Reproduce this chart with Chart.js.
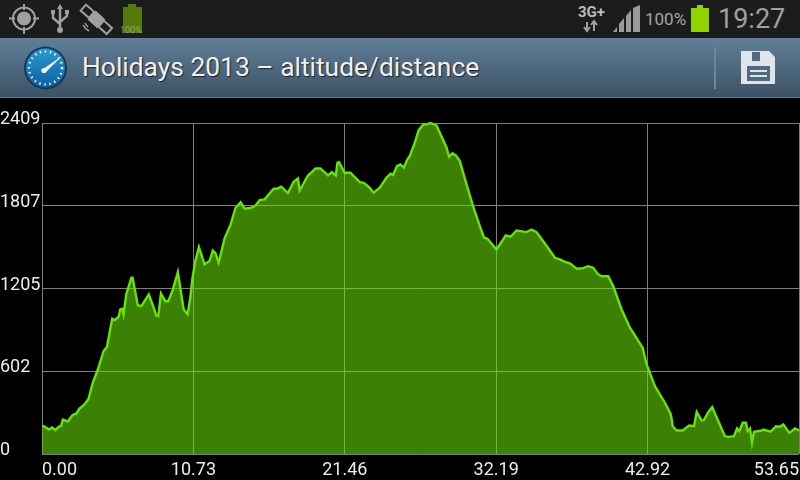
<!DOCTYPE html>
<html>
<head>
<meta charset="utf-8">
<script src="https://cdn.jsdelivr.net/npm/chart.js@4"></script>
<style>
  html, body { margin: 0; padding: 0; background: #000; width: 800px; height: 480px; overflow: hidden; font-family: Roboto, sans-serif; }
  #status { position: absolute; left: 0; top: 0; width: 800px; height: 38px; background: #1c1c1c; }
  #bar { position: absolute; left: 0; top: 38px; width: 800px; height: 60px; background: linear-gradient(#607f98, #3c5165); border-bottom: 0; box-sizing: border-box; }
  #bar .edge { position: absolute; left: 0; top: 59px; width: 800px; height: 1px; background: #62788a; }
  #title { position: absolute; left: 82px; top: 12px; font-size: 26.4px; line-height: 34px; color: #f0f0f0; text-shadow: 1px 1px 1px #222; white-space: nowrap; }
  #sep { position: absolute; left: 714px; top: 9px; width: 2px; height: 42px; background: #6e8699; }
  #chartBox { position: absolute; left: 0; top: 98px; width: 800px; height: 382px; }
  .st { position: absolute; color: #a6a6a6; white-space: nowrap; }
  svg { position: absolute; }
</style>
</head>
<body>
<div id="status">
  <svg style="left:0;top:0" width="800" height="38" viewBox="0 0 800 38">
    <!-- gps -->
    <circle cx="24" cy="18.5" r="11" fill="none" stroke="#a0a0a0" stroke-width="2"/>
    <circle cx="24" cy="18.5" r="7" fill="#a0a0a0"/>
    <path d="M24 4v6M24 27v7M9 18.5h6M33 18.5h6" stroke="#a0a0a0" stroke-width="2"/>
    <!-- usb -->
    <path d="M60 6v26M53 12v6l7 6M67 12v4l-7 6" fill="none" stroke="#a0a0a0" stroke-width="2.4"/>
    <path d="M60 4l-3 5h6z" fill="#a0a0a0"/><circle cx="60" cy="30" r="3" fill="#a0a0a0"/>
    <rect x="51" y="10" width="4" height="4" fill="#a0a0a0"/><rect x="65" y="10" width="4" height="4" fill="#a0a0a0"/>
    <!-- satellite -->
    <g transform="rotate(42 96 19)" fill="none" stroke="#a0a0a0" stroke-width="2">
      <rect x="79" y="15" width="11" height="8"/><rect x="103" y="15" width="11" height="8"/>
      <rect x="91" y="14" width="11" height="10" fill="#a0a0a0"/>
    </g>
    <path d="M83 25q2 4 6 6M85 23q1 2 3 4" fill="none" stroke="#a0a0a0" stroke-width="1.5"/>
    <!-- faded battery -->
    <rect x="128" y="4" width="8" height="3" fill="#547a0a"/>
    <rect x="123" y="7" width="19" height="26" fill="#547a0a"/>
    <!-- signal -->
    <path d="M613 32l4 -5v5zM619 32v-8l5 -6v14zM626 32v-16l5 -6v22zM633 32v-24l7 -3v27z" fill="#9a9a9a"/>
    <!-- battery -->
    <rect x="697" y="5" width="6" height="3" fill="#8fd400"/>
    <rect x="691" y="8" width="18" height="24" fill="#8fd400"/>
    <!-- arrows -->
    <path d="M587 22v8M584 27l3 4 3-4M594 31v-9M591 25l3-4 3 4" fill="none" stroke="#a0a0a0" stroke-width="2"/>
  </svg>
  <div class="st" style="left:120px;top:25px;font-size:9px;color:#c8c8c8;line-height:10px;opacity:.55">100%</div>
  <div class="st" style="left:578px;top:4px;font-size:15px;line-height:17px;font-weight:700;color:#bdbdbd">3G+</div>
  <div class="st" style="left:645px;top:9px;font-size:17px;line-height:21px">100%</div>
  <div class="st" style="left:718px;top:3px;font-size:27px;line-height:32px;color:#a0a0a0">19:27</div>
</div>
<div id="bar">
  <svg style="left:0;top:0" width="800" height="60" viewBox="0 0 800 60">
    <defs><linearGradient id="dial" x1="0" y1="0" x2="0" y2="1"><stop offset="0" stop-color="#2a9ad0"/><stop offset="1" stop-color="#0f5f9e"/></linearGradient></defs>
    <circle cx="45.5" cy="30" r="21.5" fill="#123a5c"/>
    <circle cx="45.5" cy="30" r="19.5" fill="url(#dial)"/>
    <circle cx="45.5" cy="30" r="16.5" fill="none" stroke="#e4eef4" stroke-width="2.5" stroke-dasharray="1.5 3.6"/>
    <path d="M43 31L62 18L46 34z" fill="#eef3f6"/><circle cx="44" cy="32.5" r="2.6" fill="#eef3f6"/>
    <!-- save icon -->
    <path d="M741 13h28l6 6v27h-34z" fill="#dfe4e8"/>
    <rect x="752" y="14" width="8" height="9" fill="#4f6a80"/>
    <rect x="747" y="28" width="23" height="15" fill="#4f6a80"/>
    <path d="M750 33h17M750 38h17" stroke="#dfe4e8" stroke-width="2"/>
  </svg>
  <div id="title">Holidays 2013 – altitude/distance</div>
  <div id="sep"></div>
  <div class="edge"></div>
</div>
<div id="chartBox"><canvas id="chart" width="800" height="382"></canvas></div>
<script>
// Axis labels as printed on the screen
const altitudeTicks = ['0', '602', '1205', '1807', '2409']
const distanceTicks = ['0.00', '10.73', '21.46', '32.19', '42.92', '53.65']

// Track profile: distance (km), altitude (m)
const distances = [0.01,0.13,0.48,0.72,0.94,1.19,1.36,1.48,1.83,2.18,2.43,2.66,3.01,3.30,3.60,3.96,4.36,4.60,4.79,4.98,
  5.14,5.43,5.55,5.69,5.78,5.97,6.33,6.42,6.79,7.04,7.57,7.86,8.10,8.24,8.43,8.74,8.95,9.28,9.63,10.04,
  10.32,10.51,10.65,10.87,11.12,11.52,11.88,12.11,12.30,12.52,12.94,13.37,13.72,14.08,14.36,14.84,15.14,15.43,15.78,16.42,
  16.68,16.96,17.43,17.84,18.14,18.26,18.85,19.40,19.73,20.27,20.55,20.82,20.94,21.05,21.45,21.86,22.52,22.80,23.18,23.51,
  23.94,24.41,24.70,24.88,25.16,25.40,25.64,25.87,26.06,26.42,26.70,27.01,27.25,27.53,27.96,28.43,28.67,28.85,29.09,29.33,
  29.61,30.09,30.55,31.03,31.33,31.57,32.21,32.87,33.21,33.63,34.34,34.70,35.05,35.64,36.35,36.70,37.06,37.41,37.89,38.35,
  38.71,39.06,39.42,39.66,40.13,40.48,41.08,41.67,42.57,42.85,43.44,44.15,44.57,44.70,44.98,45.40,45.87,46.21,46.40,46.75,
  46.91,47.22,47.50,48.40,48.64,49.04,49.26,49.42,49.66,49.89,50.01,50.18,50.32,50.46,51.01,51.12,51.64,52.02,52.30,52.54,
  52.96,53.37,53.65]
const altitudes = [202,202,178,193,173,198,207,251,237,285,293,331,360,402,518,615,748,778,882,984,
  974,999,1052,1057,1016,1161,1283,1283,1083,1076,1161,1081,1008,1003,1168,1112,1112,1198,1324,1052,
  1018,1137,1270,1404,1506,1380,1406,1481,1460,1392,1569,1671,1792,1833,1785,1792,1809,1848,1853,1931,
  1931,1945,1899,1982,2005,1918,2027,2078,2078,2027,2052,2027,2120,2124,2047,2047,1979,1974,1942,1902,
  1938,2011,2040,2030,2095,2108,2084,2139,2168,2266,2357,2397,2399,2409,2391,2285,2229,2164,2188,2173,
  2132,1962,1804,1658,1574,1567,1489,1591,1581,1627,1615,1634,1615,1532,1428,1416,1399,1387,1348,1353,
  1367,1356,1307,1294,1294,1222,1052,919,773,652,494,373,288,202,171,171,207,202,307,244,
  246,304,341,130,125,130,186,166,227,227,166,186,82,162,171,178,162,202,198,215,
  154,186,171]

const gridColor = '#808080'
const tickFont = { family: 'Roboto', size: 18 }

new Chart(document.getElementById('chart'), {
  type: 'line',
  data: {
    labels: distances,
    datasets: [{
      data: distances.map((d, i) => ({ x: d, y: altitudes[i] })),
      borderColor: '#69e10a',
      borderWidth: 2.4,
      backgroundColor: 'rgba(105,225,10,0.57)',
      fill: 'origin',
      pointRadius: 0,
      tension: 0,
      clip: false
    }]
  },
  options: {
    responsive: false,
    animation: false,
    layout: { autoPadding: false, padding: { top: 25, right: 1, left: 0, bottom: 0 } },
    plugins: { legend: { display: false }, tooltip: { enabled: false } },
    scales: {
      x: {
        type: 'linear',
        min: 0,
        max: 53.65,
        afterBuildTicks: s => { s.ticks = distanceTicks.map(t => ({ value: parseFloat(t) })) },
        afterFit: s => { s.height = 26; s.paddingLeft = 0; s.paddingRight = 0 },
        border: { display: false },
        grid: { color: gridColor, drawTicks: false },
        ticks: {
          color: '#ececec',
          font: tickFont,
          align: 'inner',
          maxRotation: 0,
          autoSkip: false,
          padding: 6,
          callback: (v, i) => distanceTicks[i]
        }
      },
      y: {
        min: 0,
        max: 2409,
        afterBuildTicks: s => { s.ticks = [0, 602.25, 1204.5, 1806.75, 2409].map(v => ({ value: v })) },
        afterFit: s => { s.width = 42; s.paddingTop = 0; s.paddingBottom = 0 },
        border: { display: false },
        grid: { color: gridColor, drawTicks: false },
        ticks: {
          color: '#ececec',
          font: tickFont,
          crossAlign: 'far',
          autoSkip: false,
          padding: 0,
          labelOffset: -3.5,
          callback: (v, i) => altitudeTicks[i]
        }
      }
    }
  }
})
</script>
</body>
</html>
